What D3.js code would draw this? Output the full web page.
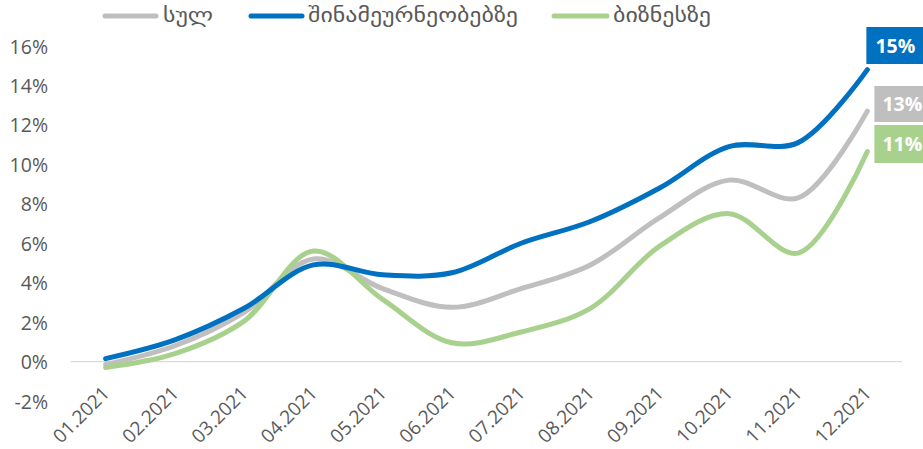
<!DOCTYPE html>
<html><head><meta charset="utf-8">
<script src="https://cdn.jsdelivr.net/npm/d3@7"></script>
<style>
html,body{margin:0;padding:0;background:#fff;}
svg{display:block;}
</style></head>
<body>
<svg id="chart" width="923" height="449"></svg>
<script>
const categories = ["01.2021","02.2021","03.2021","04.2021","05.2021","06.2021","07.2021","08.2021","09.2021","10.2021","11.2021","12.2021"];
const seriesNames = ["სულ","შინამეურნეობებზე","ბიზნესზე"];
const totalVals    = [-0.15, 0.8, 2.5, 5.2, 3.7, 2.75, 3.7, 4.9, 7.3, 9.2, 8.3, 12.7];
const householdVals= [0.15, 1.1, 2.7, 4.9, 4.4, 4.5, 6.0, 7.1, 8.8, 10.9, 11.1, 14.8];
const businessVals = [-0.3, 0.4, 2.05, 5.6, 3.15, 0.95, 1.5, 2.7, 5.85, 7.5, 5.5, 10.65];
const endLabels = ["13%","15%","11%"];
const yTicks = [-2,0,2,4,6,8,10,12,14,16];

const colors = ["#BFBFBF","#0070C0","#A9D18E"];
const seriesVals = [totalVals, householdVals, businessVals];
const font = "'Open Sans', sans-serif";

const svg = d3.select("#chart");
const x = d3.scaleBand().domain(categories).range([71, 902]);
const y = d3.scaleLinear().domain([-2,16]).range([401, 46]);
const xc = c => x(c) + x.bandwidth()/2;

// zero line
svg.append("line").attr("x1",71).attr("x2",902).attr("y1",y(0)).attr("y2",y(0))
  .attr("stroke","#D9D9D9").attr("stroke-width",1.3);

// y axis labels
const yAxis = d3.axisLeft(y).tickValues(yTicks).tickFormat(d => d + "%").tickSize(0).tickPadding(0);
const gy = svg.append("g").attr("transform","translate(48,0)").call(yAxis);
gy.select(".domain").remove();
gy.selectAll("text").attr("font-family",font).attr("font-size",19.5).attr("fill","#595959").attr("dy","0.36em");

// x axis labels
const xAxis = d3.axisBottom(x).tickSize(0);
const gx = svg.append("g").call(xAxis);
gx.select(".domain").remove();
gx.selectAll(".tick line").remove();
gx.selectAll(".tick text")
  .attr("font-family",font).attr("font-size",19).attr("fill","#595959")
  .attr("text-anchor","end")
  .attr("y",0).attr("dy",0)
  .attr("transform", d => `translate(5,${y(0)+33}) rotate(-45)`);

// lines
const line = d3.line().x((d,i)=>xc(categories[i])).y(d=>y(d)).curve(d3.curveCatmullRom.alpha(0.5));
const order = [0,2,1];
order.forEach(s => {
  svg.append("path").datum(seriesVals[s]).attr("d",line).attr("fill","none")
    .attr("stroke",colors[s]).attr("stroke-width",5).attr("stroke-linecap","round");
});

// end labels
const lastCat = categories[categories.length-1];
const boxes = [
  {s:1, x0: xc(lastCat)-1, y0: 27, w: 58, h: 37},
  {s:0, x0: xc(lastCat)+7, y0: 86, w: 52, h: 36},
  {s:2, x0: xc(lastCat)+7, y0: 125, w: 52, h: 38}
];
boxes.forEach(b => {
  svg.append("rect").attr("x",b.x0).attr("y",b.y0).attr("width",b.w).attr("height",b.h).attr("fill",colors[b.s]);
  svg.append("text").attr("x",b.x0+ (b.s===1?9:8)).attr("y",b.y0+b.h/2).attr("dy","0.36em")
    .attr("font-family",font).attr("font-weight","bold").attr("font-size",19.5).attr("fill","#fff")
    .text(endLabels[b.s]);
});

// legend
const legendLine = [[103,158],[249,304],[552,609]];
const legendTextX = [163, 308, 613];
const legendTextW = [50, 210, 98];
seriesNames.forEach((n,i) => {
  const g = svg.append("g");
  g.append("line").attr("x1",legendLine[i][0]+2).attr("x2",legendLine[i][1]-2).attr("y1",16).attr("y2",16)
    .attr("stroke",colors[i]).attr("stroke-width",5).attr("stroke-linecap","round");
  g.append("text").attr("x",legendTextX[i]).attr("y",16).attr("dy","0.3em")
    .attr("font-family","'DejaVu Sans', sans-serif").attr("font-size",20).attr("fill","#595959")
    .attr("textLength",legendTextW[i]).attr("lengthAdjust","spacingAndGlyphs").text(n);
});
</script>
</body></html>
